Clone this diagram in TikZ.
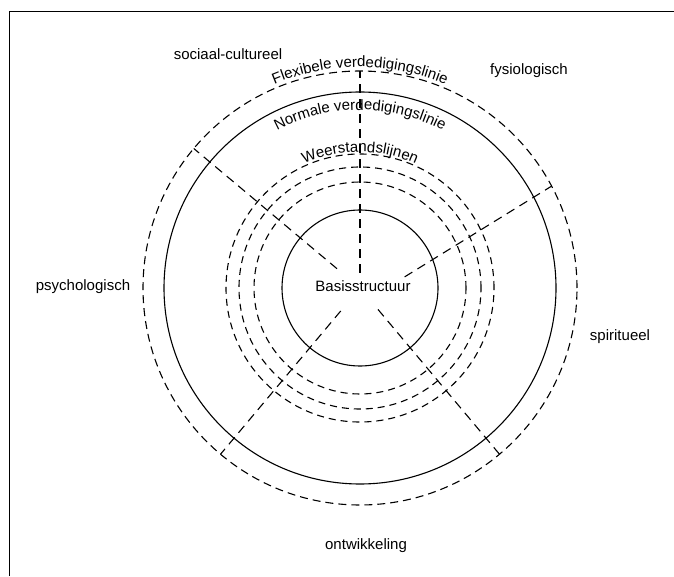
\documentclass[tikz,border=0pt]{standalone}
\usepackage{fontspec}
\setmainfont{Liberation Sans}
\usetikzlibrary{calc, decorations.text}
\newcommand{\ringfont}{\fontsize{15}{18}\selectfont}
\tikzset{
    ringline/.style={circle, draw, line width=1.1pt, inner sep=0pt, outer sep=0pt},
    flexring/.style={ringline, dash pattern=on 8pt off 5pt},
    resistring/.style={ringline, dash pattern=on 7pt off 5pt},
    spoke/.style={line width=1.1pt, dash pattern=on 9pt off 6pt},
    aspect/.style={font=\ringfont, inner sep=0pt, anchor=base},
    arctext/.style={decorate, decoration={text along path, text align=center,
                    text={|\ringfont|#1}}},
}

\begin{document}
\begin{tikzpicture}[x=1pt, y=1pt]
    \useasboundingbox (0,0) rectangle (674,576);
    % frame
    \draw[line width=0.9pt] (9,0) -- (9,565) -- (674,565);

    % rings
    \coordinate (centre) at (360,288);
    \node[flexring, minimum size=434pt] (flex) at (centre) {};
    \node[ringline, minimum size=392pt] (normal) at (centre) {};
    \foreach \r [count=\i] in {268,242,212}
        \node[resistring, minimum size=\r pt] (weer\i) at (centre) {};
    \node[ringline, minimum size=156pt] (basis) at (centre) {};
    \node[aspect] (basistext) at (363,284) {Basisstructuur};

    % spokes
    \draw[spoke] ($(centre)+(90:15)$) -- (flex.90);
    \draw[spoke] ($(centre)+(14:46)$) -- (flex.28);
    \draw[spoke] ($(centre)+(-50:28)$) -- (flex.-50);
    \draw[spoke] ($(centre)+(-130:30)$) -- (flex.-130);
    \draw[spoke] ($(centre)+(140:30)$) -- (flex.140);

    % ring names
    \path[arctext={Flexibele verdedigingslinie}]
        ($(centre)+(140:221)$) arc[start angle=140, end angle=40, radius=221];
    \path[arctext={Normale verdedigingslinie}]
        ($(centre)+(140:178)$) arc[start angle=140, end angle=40, radius=178];
    \path[arctext={Weerstandslijnen}]
        ($(centre)+(140:136)$) arc[start angle=140, end angle=40, radius=136];

    % variables
    \node[aspect] (sociaal) at (228,516) {sociaal-cultureel};
    \node[aspect] (fysio) at (529,501) {fysiologisch};
    \node[aspect] (psycho) at (83,285) {psychologisch};
    \node[aspect] (spirit) at (620,236) {spiritueel};
    \node[aspect] (ontw) at (366,27) {ontwikkeling};
\end{tikzpicture}
\end{document}
